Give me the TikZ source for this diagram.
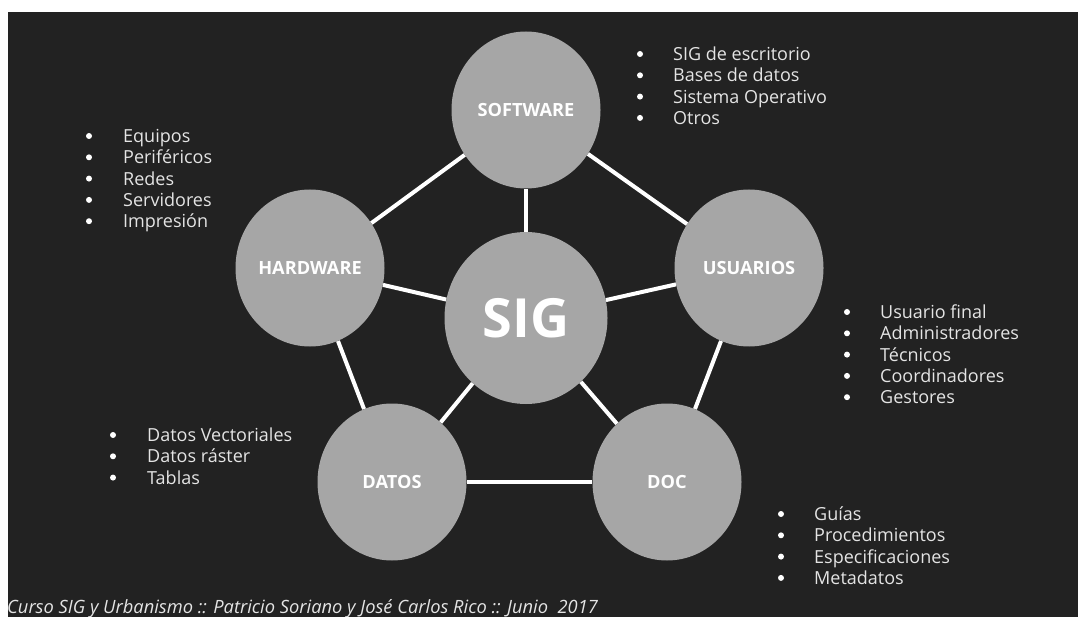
\documentclass[tikz,border=0pt]{standalone}
\usepackage{fontspec}
\setmainfont{Open Sans}
\usetikzlibrary{shapes.geometric}
\definecolor{fondo}{HTML}{222222}
\definecolor{bolagris}{HTML}{A6A6A6}
\definecolor{letra}{HTML}{E4E4E4}
\tikzset{
  bola/.style={ellipse, fill=bolagris, minimum width=149pt, minimum height=157pt,
    inner sep=0pt, text=white, font=\fontsize{18.2}{20}\selectfont\bfseries},
  enlace/.style={white, line width=4pt},
  item/.style={anchor=base west, inner sep=0pt, text=letra,
    font=\fontsize{18}{21}\selectfont},
}

\begin{document}
\begin{tikzpicture}[x=1pt,y=-1pt]
  \useasboundingbox (0,0) rectangle (1078,617);
  \clip (0,0) rectangle (1078,617);
  \fill[white] (0,0) rectangle (1078,617);
  \fill[fondo] (8,12) rectangle (1078,617);

  % circulos
  \node[bola] (sw) at (526,110) {SOFTWARE};
  \node[bola] (hw) at (310,268) {HARDWARE};
  \node[bola] (us) at (749,268) {USUARIOS};
  \node[bola] (da) at (392,482) {DATOS};
  \node[bola] (doc) at (667,482) {DOC};
  \node[bola, minimum width=163pt, minimum height=172pt,
    font=\fontsize{54}{60}\selectfont\bfseries] (sig) at (526,318) {SIG};

  % enlaces
  \draw[enlace] (sw) -- (hw);
  \draw[enlace] (sw) -- (us);
  \draw[enlace] (hw) -- (da);
  \draw[enlace] (us) -- (doc);
  \draw[enlace] (da) -- (doc);
  \foreach \n in {sw,hw,us,da,doc}
    \draw[enlace] (sig) -- (\n);

  % listas
  \foreach \t [count=\i from 0] in {SIG de escritorio, Bases de datos, Sistema Operativo, Otros} {
    \fill[white] (640,54+21.3*\i) circle (3pt);
    \node[item] (sw-\i) at (673,60.5+21.3*\i) {\t};
  }
  \foreach \t [count=\i from 0] in {Equipos, Periféricos, Redes, Servidores, Impresión} {
    \fill[white] (89,136+21.3*\i) circle (3pt);
    \node[item] (hw-\i) at (123,142.5+21.3*\i) {\t};
  }
  \foreach \t [count=\i from 0] in {Usuario final, Administradores, Técnicos, Coordinadores, Gestores} {
    \fill[white] (847,312+21.3*\i) circle (3pt);
    \node[item] (us-\i) at (880,318.5+21.3*\i) {\t};
  }
  \foreach \t [count=\i from 0] in {Datos Vectoriales, Datos ráster, Tablas} {
    \fill[white] (113,435+21.3*\i) circle (3pt);
    \node[item] (da-\i) at (147,441.5+21.3*\i) {\t};
  }
  \foreach \t [count=\i from 0] in {Guías, Procedimientos, Especificaciones, Metadatos} {
    \fill[white] (781,514+21.3*\i) circle (3pt);
    \node[item] (doc-\i) at (814,520.5+21.3*\i) {\t};
  }

  % pie
  \node[anchor=base west, inner sep=0pt, text=letra,
    font=\fontsize{18.3}{20}\selectfont\itshape] (pie) at (7,613)
    {Curso SIG y Urbanismo :: Patricio Soriano y José Carlos Rico :: Junio\ \ 2017};
\end{tikzpicture}
\end{document}
